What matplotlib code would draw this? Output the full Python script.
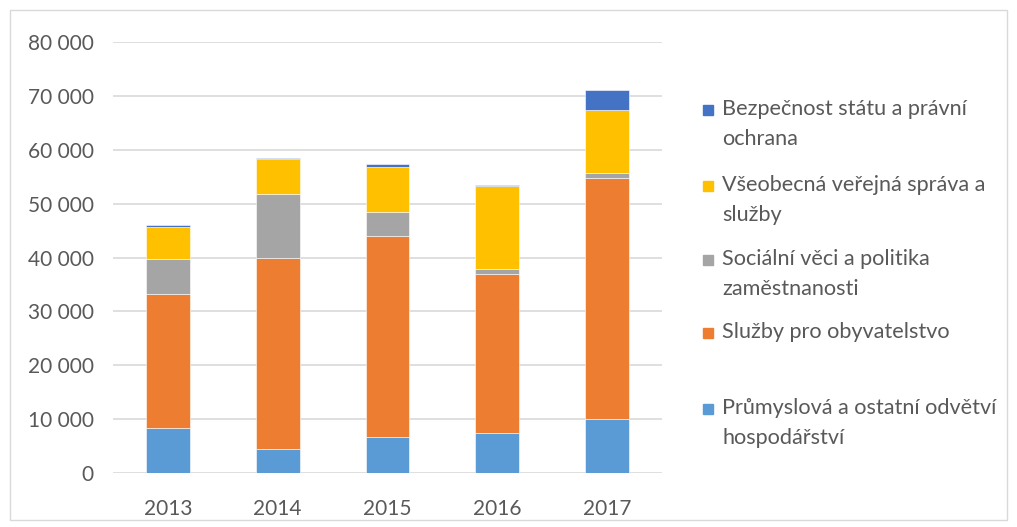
import matplotlib
matplotlib.use("Agg")
import matplotlib.pyplot as plt
from matplotlib.patches import Rectangle
import numpy as np

years = ["2013", "2014", "2015", "2016", "2017"]
prumysl = [8400, 4400, 6700, 7400, 10100]
sluzby = [24900, 35600, 37300, 29600, 44600]
socialni = [6400, 11800, 4500, 900, 1000]
vseobecna = [5900, 6500, 8300, 15300, 11600]
bezpecnost = [500, 200, 500, 300, 3800]

series = [
    ("Průmyslová a ostatní odvětví\nhospodářství", prumysl, "#5B9BD5"),
    ("Služby pro obyvatelstvo", sluzby, "#ED7D31"),
    ("Sociální věci a politika\nzaměstnanosti", socialni, "#A5A5A5"),
    ("Všeobecná veřejná správa a\nslužby", vseobecna, "#FFC000"),
    ("Bezpečnost státu a právní\nochrana", bezpecnost, "#4472C4"),
]

plt.rcParams['font.family'] = ['Lato', 'DejaVu Sans']
txt = "#595959"
fs = 15

fig = plt.figure(figsize=(10.17, 5.27), dpi=100)
ax = fig.add_axes([113/1017, 1-473/527, (662-113)/1017, (473-42)/527])

x = np.arange(len(years))
bottom = np.zeros(len(years))
for label, vals, col in series:
    ax.bar(x, vals, 0.4, bottom=bottom, color=col, edgecolor="white", linewidth=0.4, zorder=3)
    bottom += np.array(vals)

ax.set_xlim(-0.5, 4.5)
ax.set_ylim(0, 80000)
yt = np.arange(0, 80001, 10000)
ax.set_yticks(yt)
ax.set_yticklabels([f"{v:,}".replace(",", " ") for v in yt])
ax.set_xticks(x)
ax.set_xticklabels(years)
ax.grid(axis="y", color="#D9D9D9", linewidth=1.2, zorder=0)
for s in ax.spines.values():
    s.set_visible(False)
ax.tick_params(length=0, labelsize=fs, colors=txt)
ax.tick_params(axis="y", pad=14)
ax.tick_params(axis="x", pad=19)

# legend (manual, Excel-like)
first_lines = [110, 186, 260, 333, 409]
for (label, vals, col), yl in zip(series[::-1], first_lines):
    fig.patches.append(Rectangle((703/1017, 1-(yl+5)/527), 10/1017, 10/527,
                                 transform=fig.transFigure, color=col))
    fig.text(722/1017, 1-(yl-11)/527, label, fontsize=15.6, color=txt, va="top", ha="left",
             linespacing=1.62)

fig.patches.append(Rectangle((10/1017, 7/527), 997/1017, 510/527, transform=fig.transFigure,
                             fill=False, edgecolor="#D9D9D9", linewidth=1))

fig.savefig("out.png", dpi=100)
